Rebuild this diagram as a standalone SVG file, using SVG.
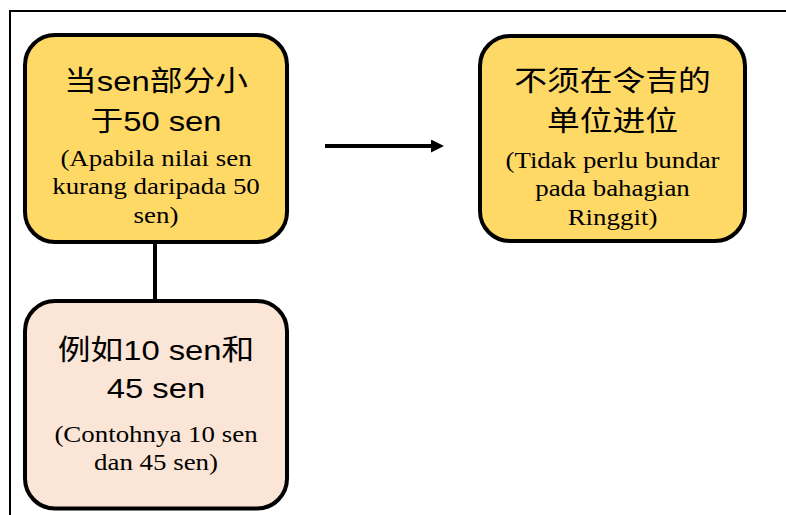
<svg xmlns="http://www.w3.org/2000/svg" width="786" height="515" viewBox="0 0 786 515">
<defs>
<style>
.frame{fill:none;stroke:#000;stroke-width:2}
.box{stroke:#000;stroke-width:4}
.y{fill:#FFD966}
.p{fill:#FBE5D6}
.h{font-family:"Liberation Sans","Noto Sans CJK SC",sans-serif;font-size:28px;fill:#000;text-anchor:middle}
.s{font-family:"Liberation Serif","Noto Sans CJK SC",serif;font-size:23px;fill:#000;text-anchor:middle}
.c{stroke:#000;stroke-width:4;fill:none}
</style>
<marker id="ah" markerWidth="14" markerHeight="14" refX="0" refY="6.5" orient="auto" markerUnits="userSpaceOnUse">
<path d="M0,0 L13,6.5 L0,13 Z" fill="#000"/>
</marker>
</defs>
<rect width="786" height="515" fill="#fff"/>
<path class="frame" d="M10,515 V11 H786"/>
<g id="connectors">
<line class="c" x1="155" y1="242" x2="155" y2="301"/>
<line class="c" x1="325" y1="146" x2="431" y2="146" marker-end="url(#ah)"/>
</g>
<g id="node-less-than-50">
<rect class="box y" x="25" y="35" width="262" height="207" rx="30" ry="30"/>
<g transform="matrix(1.17,0,0,1,156,0)">
<text class="h" x="0" y="91">当sen部分小</text>
<text class="h" x="0" y="131">于50 sen</text>
<text class="s" x="0" y="166">(Apabila nilai sen</text>
<text class="s" x="0" y="194.5">kurang daripada 50</text>
<text class="s" x="0" y="223">sen)</text>
</g>
</g>
<g id="node-no-round">
<rect class="box y" x="480" y="36" width="265" height="205" rx="30" ry="30"/>
<g transform="matrix(1.17,0,0,1,612.5,0)">
<text class="h" x="0" y="91">不须在令吉的</text>
<text class="h" x="0" y="131">单位进位</text>
<text class="s" x="0" y="168">(Tidak perlu bundar</text>
<text class="s" x="0" y="196.5">pada bahagian</text>
<text class="s" x="0" y="225">Ringgit)</text>
</g>
</g>
<g id="node-example">
<rect class="box p" x="25" y="301" width="262" height="207.5" rx="30" ry="30"/>
<g transform="matrix(1.17,0,0,1,156,0)">
<text class="h" x="0" y="360">例如10 sen和</text>
<text class="h" x="0" y="398">45 sen</text>
<text class="s" x="0" y="442">(Contohnya 10 sen</text>
<text class="s" x="0" y="470">dan 45 sen)</text>
</g>
</g>
</svg>
